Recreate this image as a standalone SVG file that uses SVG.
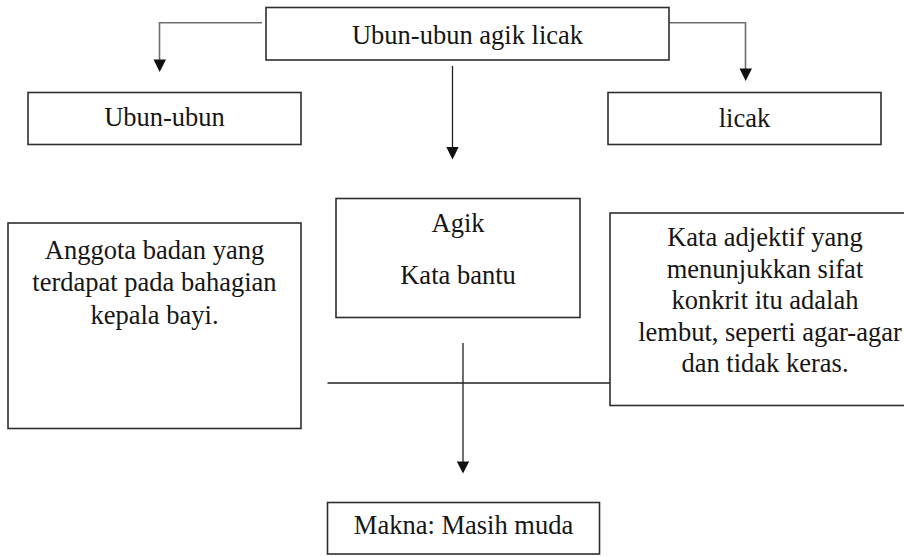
<svg xmlns="http://www.w3.org/2000/svg" width="904" height="556" viewBox="0 0 904 556">
<style>
.box{fill:#fff;stroke:#2e2e2e;stroke-width:1.6}
.t{font-family:"Liberation Serif","Times New Roman",serif;font-size:26.5px;fill:#161616;text-anchor:middle}
.c{fill:none;stroke:#222;stroke-width:1.3}
.cg{fill:none;stroke:#6e6e6e;stroke-width:1.6}
.ah{fill:#111}
</style>
<rect width="904" height="556" fill="#fff"/>
<g id="connectors">
<path class="cg" d="M262,22.7 H159.5 V61"/>
<path class="cg" d="M669,22.7 H745.5 V70"/>
<path class="c" d="M452.5,66 V149"/>
<path class="c" d="M327.5,383 H610"/>
<path class="c" d="M463,343 V463"/>
<path class="ah" d="M153.5,59.5 L166,59.5 L159.7,72 Z"/>
<path class="ah" d="M739.5,68.5 L752,68.5 L745.7,81 Z"/>
<path class="ah" d="M446.3,147 L458.7,147 L452.5,159.5 Z"/>
<path class="ah" d="M456.8,461.5 L469.2,461.5 L463,473.5 Z"/>
</g>
<g id="n-top"><rect class="box" x="266" y="7.5" width="403" height="52.5"/><text class="t" x="467.5" y="44">Ubun-ubun agik licak</text></g>
<g id="n-ubun"><rect class="box" x="28" y="92.5" width="273" height="52"/><text class="t" x="164.5" y="126">Ubun-ubun</text></g>
<g id="n-licak"><rect class="box" x="608" y="92.5" width="273" height="52"/><text class="t" x="744.5" y="126.5">licak</text></g>
<g id="n-agik"><rect class="box" x="336" y="198.5" width="244" height="119"/><text class="t" x="458" y="232">Agik</text><text class="t" x="458" y="283.5">Kata bantu</text></g>
<g id="n-left"><rect class="box" x="8" y="223" width="293" height="205.5"/><text class="t" x="154.5" y="258.5">Anggota badan yang</text><text class="t" x="154.5" y="291">terdapat pada bahagian</text><text class="t" x="154.5" y="323.5">kepala bayi.</text></g>
<g id="n-right"><rect class="box" x="610" y="213" width="310" height="192.5"/><text class="t" x="765" y="246">Kata adjektif yang</text><text class="t" x="765" y="277.5">menunjukkan sifat</text><text class="t" x="765" y="309">konkrit itu adalah</text><text class="t" x="770" y="340.5">lembut, seperti agar-agar</text><text class="t" x="765" y="372">dan tidak keras.</text></g>
<g id="n-makna"><rect class="box" x="327.5" y="502.5" width="272" height="51.5"/><text class="t" x="463.5" y="534">Makna: Masih muda</text></g>
</svg>
